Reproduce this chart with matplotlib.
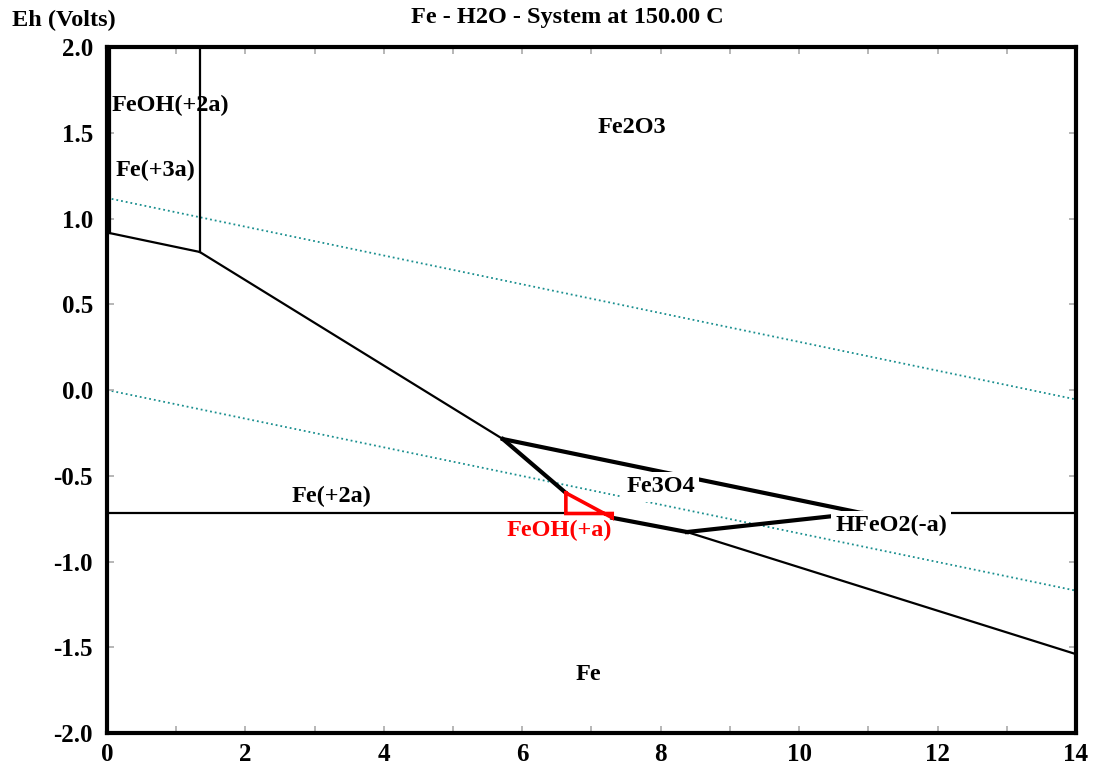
import matplotlib
matplotlib.use("Agg")
import matplotlib.pyplot as plt
import numpy as np

plt.rcParams['font.family'] = ['Liberation Serif', 'DejaVu Serif']
plt.rcParams['font.weight'] = 'bold'

# Eh-pH diagram, Fe - H2O at 150 C
ph_range = [0, 14]
eh_range = [-2.0, 2.0]
x_ticks = [0, 2, 4, 6, 8, 10, 12, 14]
y_ticks = [-2.0, -1.5, -1.0, -0.5, 0.0, 0.5, 1.0, 1.5, 2.0]

# water stability limits (O2 / H2), Eh at pH 0 and pH 14
water_upper = [1.12, -0.055]
water_lower = [0.0, -1.17]

# thin boundaries (pH, Eh)
thin_bounds = [
    [(0.04, 2.0), (0.04, 0.915)],
    [(1.34, 2.0), (1.34, 0.805)],
    [(0.04, 0.915), (1.34, 0.805)],
    [(1.34, 0.805), (5.72, -0.286)],
    [(0.0, -0.72), (6.63, -0.72)],
    [(8.38, -0.828), (14.0, -1.54)],
    [(10.9, -0.717), (14.0, -0.717)],
]
# Fe3O4 field boundaries
thick_bounds = [
    [(5.72, -0.286), (6.63, -0.60)],
    [(5.72, -0.286), (10.9, -0.717)],
    [(7.30, -0.745), (8.38, -0.828)],
    [(8.38, -0.828), (10.9, -0.717)],
]
# FeOH(+a) field
feoh_field = [(6.63, -0.60), (6.63, -0.72), (7.30, -0.72), (7.30, -0.745), (6.63, -0.60)]

# species labels: text, pH, Eh, align, white box, colour
labels = [
    ("FeOH(+2a)", 0.07, 1.66, 'left', False, 'black'),
    ("Fe(+3a)", 0.12, 1.28, 'left', False, 'black'),
    ("Fe2O3", 7.59, 1.53, 'center', False, 'black'),
    ("Fe3O4", 8.0, -0.565, 'center', True, 'black'),
    ("Fe(+2a)", 3.25, -0.62, 'center', False, 'black'),
    ("FeOH(+a)", 6.53, -0.82, 'center', False, 'red'),
    ("HFeO2(-a)", 11.33, -0.79, 'center', True, 'black'),
    ("Fe", 6.95, -1.66, 'center', False, 'black'),
]

fig = plt.figure(figsize=(10.94, 7.72), dpi=100)
ax = fig.add_axes([0.0978, 0.0505, 0.8857, 0.8886])

ax.plot(ph_range, water_upper, ls=':', color='#1a8f8f', lw=1.3, zorder=1)
ax.plot(ph_range, water_lower, ls=':', color='#1a8f8f', lw=1.3, zorder=1)

for seg in thin_bounds:
    xs, ys = zip(*seg)
    ax.plot(xs, ys, color='black', lw=1.6, zorder=2)
for seg in thick_bounds:
    xs, ys = zip(*seg)
    ax.plot(xs, ys, color='black', lw=3.0, zorder=2)
xs, ys = zip(*feoh_field)
ax.plot(xs, ys, color='red', lw=2.6, zorder=3, solid_joinstyle='miter')

for txt, x, y, ha, boxed, col in labels:
    kw = {}
    if boxed:
        kw['bbox'] = dict(facecolor='white', edgecolor='none', pad=3)
    ax.text(x, y, txt, ha=ha, va='center', fontsize=17.5, fontweight='bold',
            color=col, zorder=5, **kw)

ax.set_xlim(*ph_range)
ax.set_ylim(*eh_range)
ax.set_xticks(x_ticks)
ax.set_xticks(np.arange(1, 14, 2), minor=True)
ax.set_yticks(y_ticks)
ax.set_yticklabels(['%.1f' % v for v in y_ticks])
ax.tick_params(which='both', direction='in', length=5, width=1.2, color='#aaaaaa',
               top=True, right=True, labelsize=18)
ax.tick_params(axis='y', pad=10)
ax.tick_params(axis='x', pad=7)
for lab in ax.get_xticklabels() + ax.get_yticklabels():
    lab.set_fontweight('bold')
for sp in ax.spines.values():
    sp.set_linewidth(3.0)
    sp.set_zorder(6)

fig.text(0.519, 0.977, "Fe - H2O - System at 150.00 C", ha='center', va='center',
         fontsize=17.5, fontweight='bold')
fig.text(0.058, 0.974, "Eh (Volts)", ha='center', va='center',
         fontsize=17.5, fontweight='bold')

fig.savefig("out.png", dpi=100)
